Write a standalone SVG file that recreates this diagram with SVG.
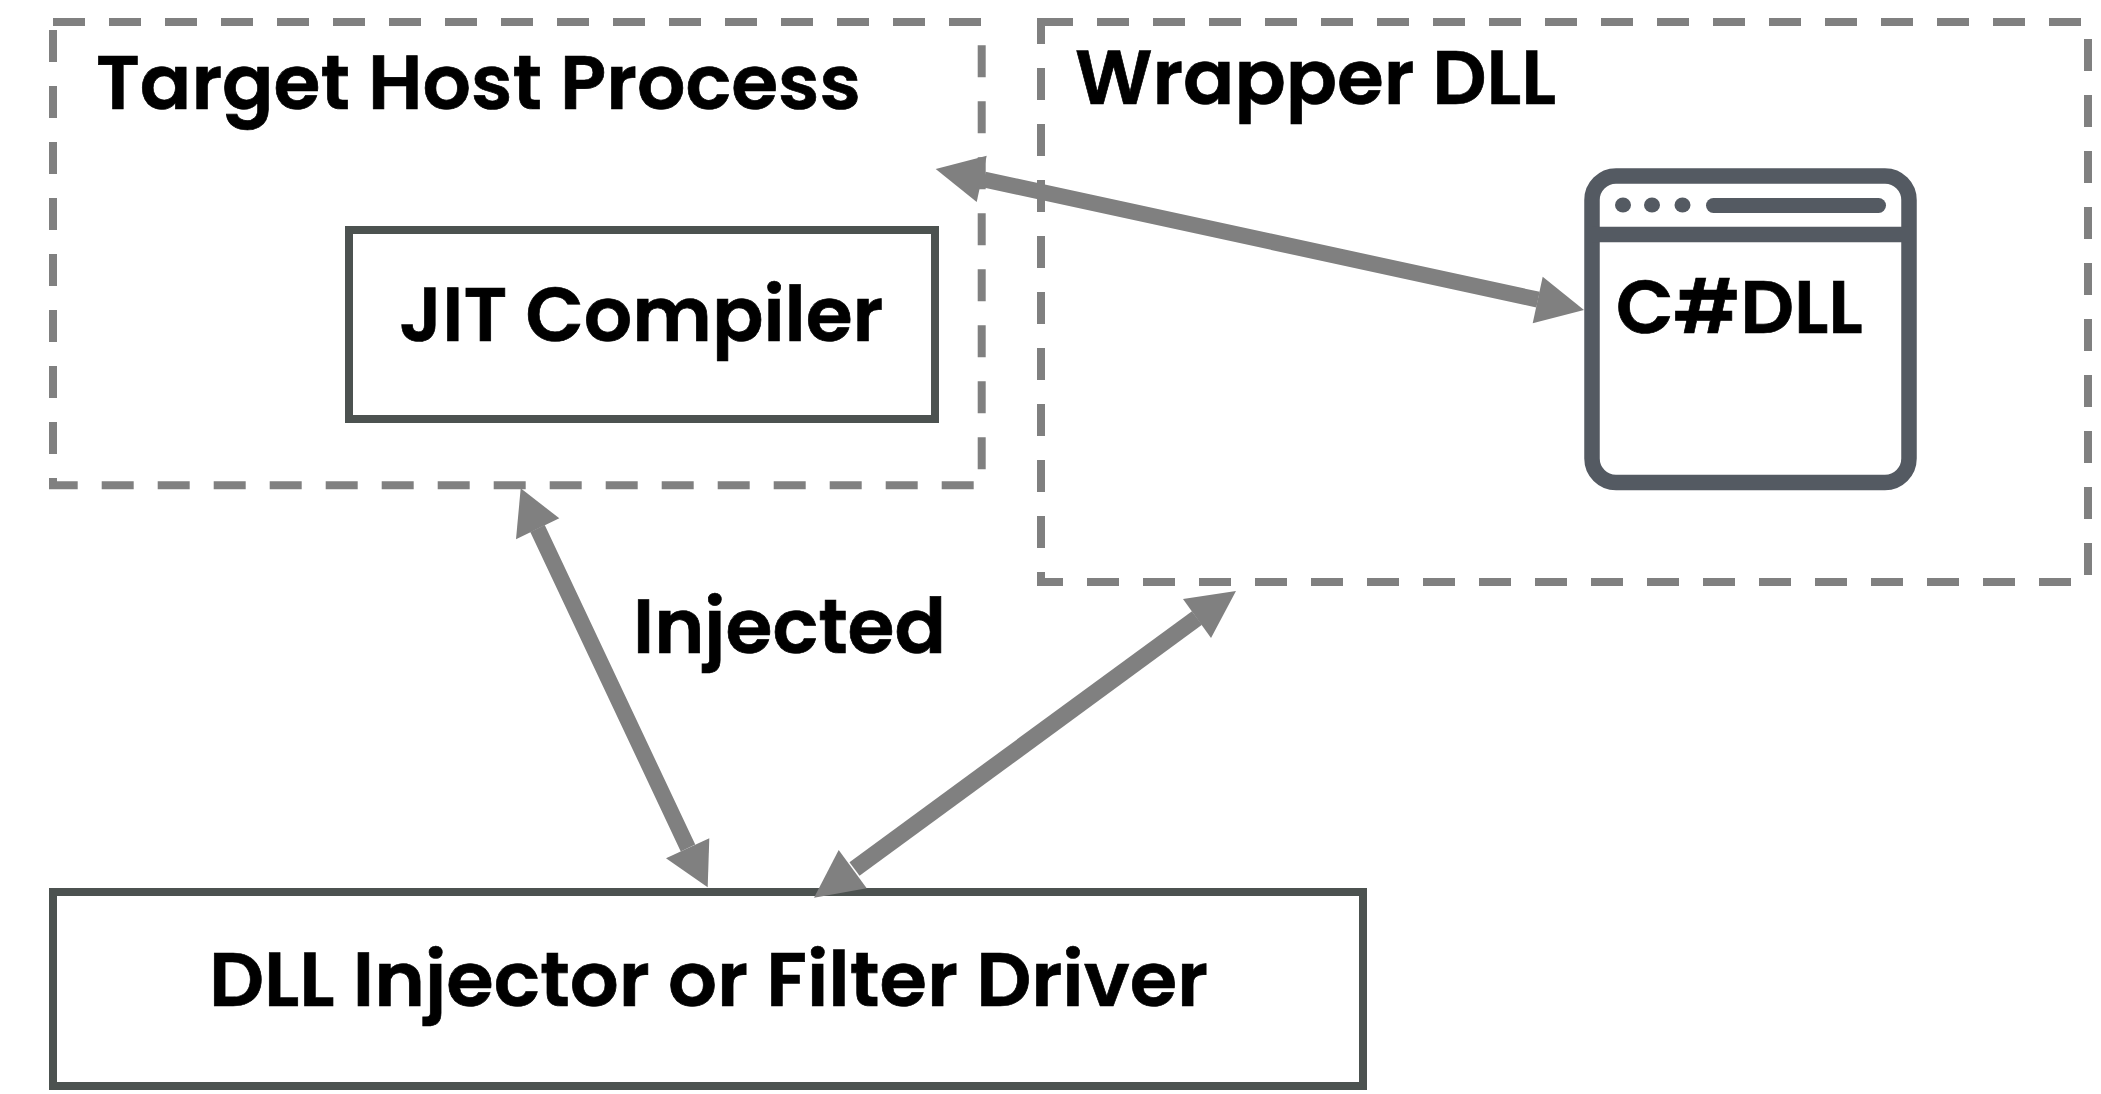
<svg xmlns="http://www.w3.org/2000/svg" width="2101" height="1094" viewBox="0 0 2101 1094">
<defs><style>
.t{font-family:Poppins,"Open Sans","Noto Sans",sans-serif;font-weight:600;font-size:76px;fill:#000;stroke:#000;stroke-width:.7}
.d{fill:none;stroke:#808080;stroke-width:8;stroke-dasharray:32 24}
.b{fill:#fff;stroke:#4c5250;stroke-width:8}
.c{stroke:#808080;stroke-width:16;fill:none}
.a{fill:#808080}
.i{fill:none;stroke:#545a62;stroke-width:15.500}
.f{fill:#545a62}
</style></defs>
<rect width="2101" height="1094" fill="#fff"/>
<g id="target"><rect class="d" x="53" y="22" width="928.700" height="463.300"/><text class="t" x="96" y="108.500">Target Host Process</text></g>
<g id="wrapper"><rect class="d" x="1041" y="22" width="1047" height="560"/><text class="t" x="1075" y="104" style="font-size:75.700px">Wrapper DLL</text></g>
<g id="jit"><rect class="b" x="349" y="230" width="586" height="189"/><text class="t" x="399" y="341">JIT Compiler</text></g>
<g id="csharp"><rect class="i" x="1592" y="176" width="317" height="306.500" rx="24"/><path class="i" d="M1592 234.500H1909"/><ellipse class="f" cx="1623" cy="205" rx="8" ry="7.500"/><ellipse class="f" cx="1652" cy="205" rx="8" ry="7.500"/><ellipse class="f" cx="1682.500" cy="205" rx="8" ry="7.500"/><path d="M1713.500 205.500H1878.500" stroke="#545a62" stroke-width="15" stroke-linecap="round"/><text class="t" x="1616" y="333" style="font-size:75px">C#DLL</text></g>
<g id="injector"><rect class="b" x="53" y="892" width="1310" height="194"/><text class="t" x="209" y="1006" style="font-size:76.800px">DLL Injector or Filter Driver</text></g>
<text class="t" x="633" y="653">Injected</text>
<g id="connectors">
<path class="c" d="M984 179.500L1538 299.600M537.500 528.500L688 848"/>
<path class="c" style="stroke-width:17" d="M1197 618L854.500 869"/>
<polygon class="a" points="935.700,169 986.700,155.700 976.700,202"/><polygon class="a" points="1584,310 1542.700,276.700 1532.700,323.300"/>
<polygon class="a" points="520.700,488.300 559.300,518.300 516,539.300"/><polygon class="a" points="707.700,887.300 709.300,838.300 666,858.300"/>
<polygon class="a" points="1236,591 1183,599 1211,638"/><polygon class="a" points="814,897.700 838.700,850 866.700,888.300"/>
</g>
</svg>
